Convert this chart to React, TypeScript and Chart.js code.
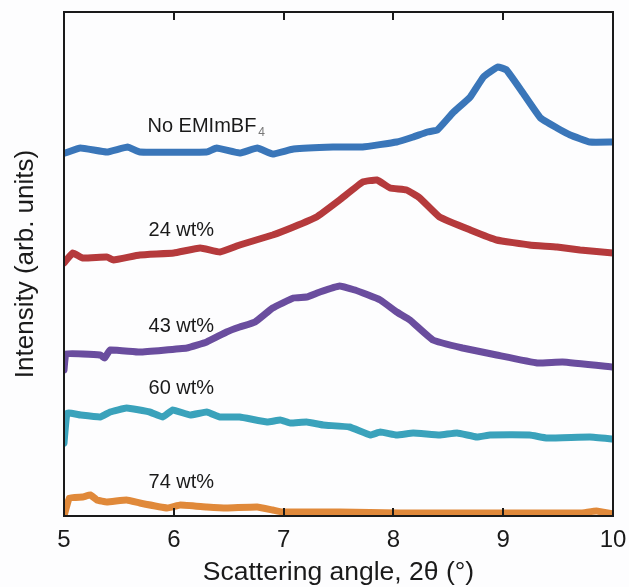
import React, { useEffect, useRef } from "react";
import { Chart, registerables } from "chart.js";

Chart.register(...registerables);

// X tick values and series (x = scattering angle 2θ, y = intensity, arb. units, offset-stacked)
const xTicks = [5, 6, 7, 8, 9, 10];

const blueX = [5.01, 5.15, 5.39, 5.58, 5.69, 6.3, 6.39, 6.6, 6.76, 6.9, 7.09, 7.45, 7.72, 8.03, 8.18, 8.31, 8.4, 8.54, 8.7, 8.82, 8.95, 9.03, 9.18, 9.34, 9.49, 9.61, 9.79, 10.0];
const blueY = [363, 368, 364, 369, 364, 364, 368, 363, 368, 362, 367, 369, 369, 374, 379, 384, 386, 403, 419, 439, 449, 446, 423, 398, 388, 381, 374, 374];

const redX = [5.0, 5.08, 5.17, 5.39, 5.45, 5.69, 6.0, 6.24, 6.42, 6.6, 6.9, 7.09, 7.3, 7.51, 7.72, 7.85, 7.97, 8.12, 8.24, 8.42, 8.7, 8.94, 9.24, 9.49, 9.7, 10.0];
const redY = [253, 263, 258, 259, 256, 261, 263, 268, 264, 271, 281, 289, 299, 316, 334, 336, 328, 326, 318, 299, 286, 276, 271, 269, 266, 263];

const purpleX = [5.0, 5.02, 5.33, 5.37, 5.42, 5.69, 6.12, 6.3, 6.48, 6.6, 6.74, 6.9, 7.09, 7.21, 7.33, 7.51, 7.65, 7.88, 8.03, 8.15, 8.36, 8.63, 8.94, 9.31, 9.54, 10.0];
const purpleY = [146, 162, 161, 158, 166, 164, 168, 174, 184, 189, 194, 208, 218, 219, 224, 230, 226, 216, 204, 196, 176, 168, 161, 153, 154, 149];

const tealX = [5.0, 5.03, 5.15, 5.33, 5.42, 5.57, 5.78, 5.9, 5.99, 6.15, 6.3, 6.42, 6.6, 6.85, 6.97, 7.06, 7.21, 7.36, 7.6, 7.79, 7.88, 8.03, 8.18, 8.42, 8.58, 8.76, 8.88, 9.24, 9.4, 9.79, 10.0];
const tealY = [73, 103, 101, 99, 104, 108, 104, 99, 106, 101, 104, 99, 99, 94, 96, 93, 94, 91, 89, 81, 84, 81, 83, 81, 83, 79, 81, 81, 78, 79, 77];

const orangeX = [5.0, 5.05, 5.17, 5.24, 5.3, 5.39, 5.57, 5.69, 5.94, 6.06, 6.3, 6.48, 6.76, 6.9, 6.99, 7.51, 8.06, 8.97, 9.7, 9.85, 10.0];
const orangeY = [0, 18, 19, 21, 16, 14, 16, 13, 8, 11, 9, 8, 9, 6, 4, 4, 3, 3, 3, 5, 2];

const seriesNames = ["No EMImBF4", "24 wt%", "43 wt%", "60 wt%", "74 wt%"];
const seriesColors = ["#3a76b9", "#b53a3c", "#6a4d9e", "#3aa2bb", "#e0893a"];

// Curve labels (text, anchor in data units)
const labelTexts = ["No EMImBF", "24 wt%", "43 wt%", "60 wt%", "74 wt%"];
const labelX = [5.76, 5.77, 5.77, 5.77, 5.77];
const labelY = [390, 286, 190, 128, 34];

const FONT = "'Liberation Sans', Arial, sans-serif";

function toPoints(xs: number[], ys: number[]) {
  return xs.map((x, i) => ({ x, y: ys[i] }));
}

const framePlugin = {
  id: "frameAndLabels",
  afterDatasetsDraw(chart: any) {
    const { ctx, chartArea } = chart;
    const xs = chart.scales.x;
    const ys = chart.scales.y;
    ctx.save();
    ctx.strokeStyle = "#1a1a1a";
    ctx.lineWidth = 2;
    ctx.strokeRect(chartArea.left, chartArea.top, chartArea.right - chartArea.left, chartArea.bottom - chartArea.top);
    for (const t of xTicks) {
      const px = Math.round(xs.getPixelForValue(t));
      ctx.beginPath();
      ctx.moveTo(px, chartArea.bottom);
      ctx.lineTo(px, chartArea.bottom - 8);
      ctx.moveTo(px, chartArea.top);
      ctx.lineTo(px, chartArea.top + 8);
      ctx.stroke();
    }
    ctx.textBaseline = "middle";
    ctx.textAlign = "left";
    labelTexts.forEach((t, i) => {
      const px = xs.getPixelForValue(labelX[i]);
      const py = ys.getPixelForValue(labelY[i]);
      ctx.font = `20px ${FONT}`;
      ctx.fillStyle = "#1a1a1a";
      ctx.fillText(t, px, py);
      if (i === 0) {
        const w = ctx.measureText(t).width;
        ctx.font = `12px ${FONT}`;
        ctx.fillStyle = "#777";
        ctx.fillText("4", px + w + 2, py + 7);
      }
    });
    ctx.restore();
  },
};

const bgPlugin = {
  id: "bg",
  beforeDraw(chart: any) {
    const { ctx, width, height } = chart;
    ctx.save();
    ctx.fillStyle = "#fdfdfe";
    ctx.fillRect(0, 0, width, height);
    ctx.restore();
  },
};

export default function App() {
  const ref = useRef<HTMLCanvasElement | null>(null);

  useEffect(() => {
    if (!ref.current) return;
    const allX = [blueX, redX, purpleX, tealX, orangeX];
    const allY = [blueY, redY, purpleY, tealY, orangeY];
    const chart = new Chart(ref.current, {
      type: "line",
      data: {
        datasets: seriesNames.map((name, i) => ({
          label: name,
          data: toPoints(allX[i], allY[i]),
          borderColor: seriesColors[i],
          backgroundColor: seriesColors[i],
          borderWidth: 7,
          pointRadius: 0,
          tension: 0.1,
          borderJoinStyle: "round" as const,
          borderCapStyle: "round" as const,
          fill: false,
        })),
      },
      options: {
        animation: false,
        responsive: false,
        devicePixelRatio: 1,
        layout: { padding: { top: 12, right: 16, left: 0, bottom: 0 } },
        plugins: { legend: { display: false }, tooltip: { enabled: false } },
        scales: {
          x: {
            type: "linear",
            min: 5,
            max: 10,
            afterFit: (s: any) => { s.height = 71; s.paddingLeft = 0; s.paddingRight = 0; },
            afterBuildTicks: (s: any) => { s.ticks = xTicks.map((v) => ({ value: v })); },
            ticks: { color: "#1a1a1a", font: { family: FONT, size: 24 }, padding: 10, maxRotation: 0 },
            grid: { display: false, drawTicks: false },
            border: { display: false },
            title: {
              display: true,
              text: "Scattering angle, 2θ (°)",
              color: "#1a1a1a",
              font: { family: FONT, size: 26.5, lineHeight: 1 },
              padding: { top: 0, bottom: 1 },
            },
          },
          y: {
            type: "linear",
            min: 0,
            max: 504,
            afterFit: (s: any) => { s.width = 64; s.paddingTop = 0; s.paddingBottom = 0; },
            ticks: { display: false },
            grid: { display: false, drawTicks: false },
            border: { display: false },
            title: {
              display: true,
              text: "Intensity (arb. units)",
              color: "#1a1a1a",
              font: { family: FONT, size: 26, lineHeight: 1 },
              padding: { top: 13, bottom: 0 },
            },
          },
        },
      },
      plugins: [bgPlugin, framePlugin],
    });
    return () => chart.destroy();
  }, []);

  return (
    <div style={{ position: "absolute", left: 0, top: 0, width: 629, height: 587 }}>
      <canvas ref={ref} width={629} height={587} style={{ display: "block" }} />
    </div>
  );
}
